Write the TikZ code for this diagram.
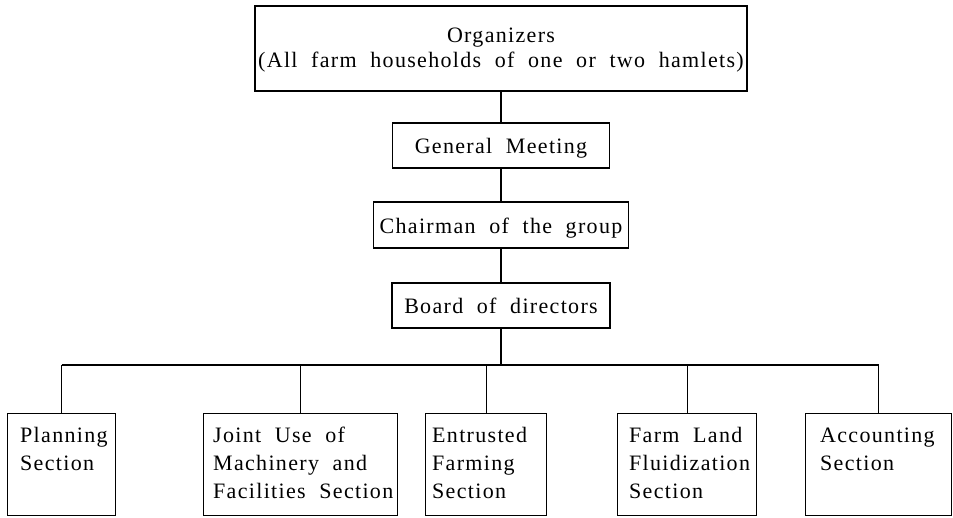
\documentclass[tikz,border=0pt]{standalone}
\usepackage{fontspec}
\setmainfont{Liberation Serif}[LetterSpace=6, WordSpace=2]
\newcommand\firstline{\rule{0pt}{15pt}}
\begin{document}
\begin{tikzpicture}[x=1pt, y=-1pt,
  txt/.style={font=\fontsize{22}{28}\selectfont},
  box/.style={draw, line width=1.2pt, rectangle, inner sep=0pt},
  lbl/.style={txt, inner sep=0pt, align=left, anchor=north west},
  conn/.style={line width=1.2pt}]
\useasboundingbox (0,0) rectangle (953,517);

% upper chain of command
\node[box, minimum width=492pt, minimum height=85pt] (org) at (501,48.5) {};
\node[txt, inner sep=0pt, align=center, anchor=north,
      font=\fontsize{22}{25}\selectfont] (orgt) at ([yshift=-22pt]org.north)
  {\firstline Organizers\\(All farm households of one or two hamlets)};
\node[box, txt, minimum width=217pt, minimum height=45pt, text height=16pt, text depth=0pt] (gm) at (501,145.5) {General Meeting};
\node[box, txt, minimum width=255pt, minimum height=46pt, text height=16pt, text depth=0pt] (ch) at (501,225) {Chairman of the group};
\node[box, txt, minimum width=218pt, minimum height=45pt, text height=15pt, text depth=0pt] (bd) at (501,305.5) {Board of directors};

% sections
\tikzset{sect/.style={box, anchor=north west, minimum height=102pt}}
\node[sect, minimum width=108pt] (pl) at (7,413) {};
\node[sect, minimum width=194pt] (ju) at (203,413) {};
\node[sect, minimum width=121pt] (en) at (425,413) {};
\node[sect, minimum width=139pt] (fl) at (617,413) {};
\node[sect, minimum width=146pt] (ac) at (805,413) {};

\node[lbl] (plt) at ([xshift=13pt,yshift=-14pt]pl.north west) {\firstline Planning\\Section};
\node[lbl] (jut) at ([xshift=10pt,yshift=-14pt]ju.north west) {\firstline Joint Use of\\Machinery and\\Facilities Section};
\node[lbl] (ent) at ([xshift=7pt,yshift=-14pt]en.north west) {\firstline Entrusted\\Farming\\Section};
\node[lbl] (flt) at ([xshift=12pt,yshift=-14pt]fl.north west) {\firstline Farm Land\\Fluidization\\Section};
\node[lbl] (act) at ([xshift=15pt,yshift=-14pt]ac.north west) {\firstline Accounting\\Section};

% connectors
\coordinate (bus) at (0,365);
\draw[conn] (org.south) -- (gm.north);
\draw[conn] (gm.south) -- (ch.north);
\draw[conn] (ch.south) -- (bd.north);
\draw[conn] (bd.south) -- (bd.south |- bus);
\draw[conn] (pl.north |- bus) -- (ac.north |- bus);
\foreach \s in {pl,ju,en,fl,ac}
  \draw[conn] (\s.north) -- (\s.north |- bus);
\end{tikzpicture}
\end{document}
